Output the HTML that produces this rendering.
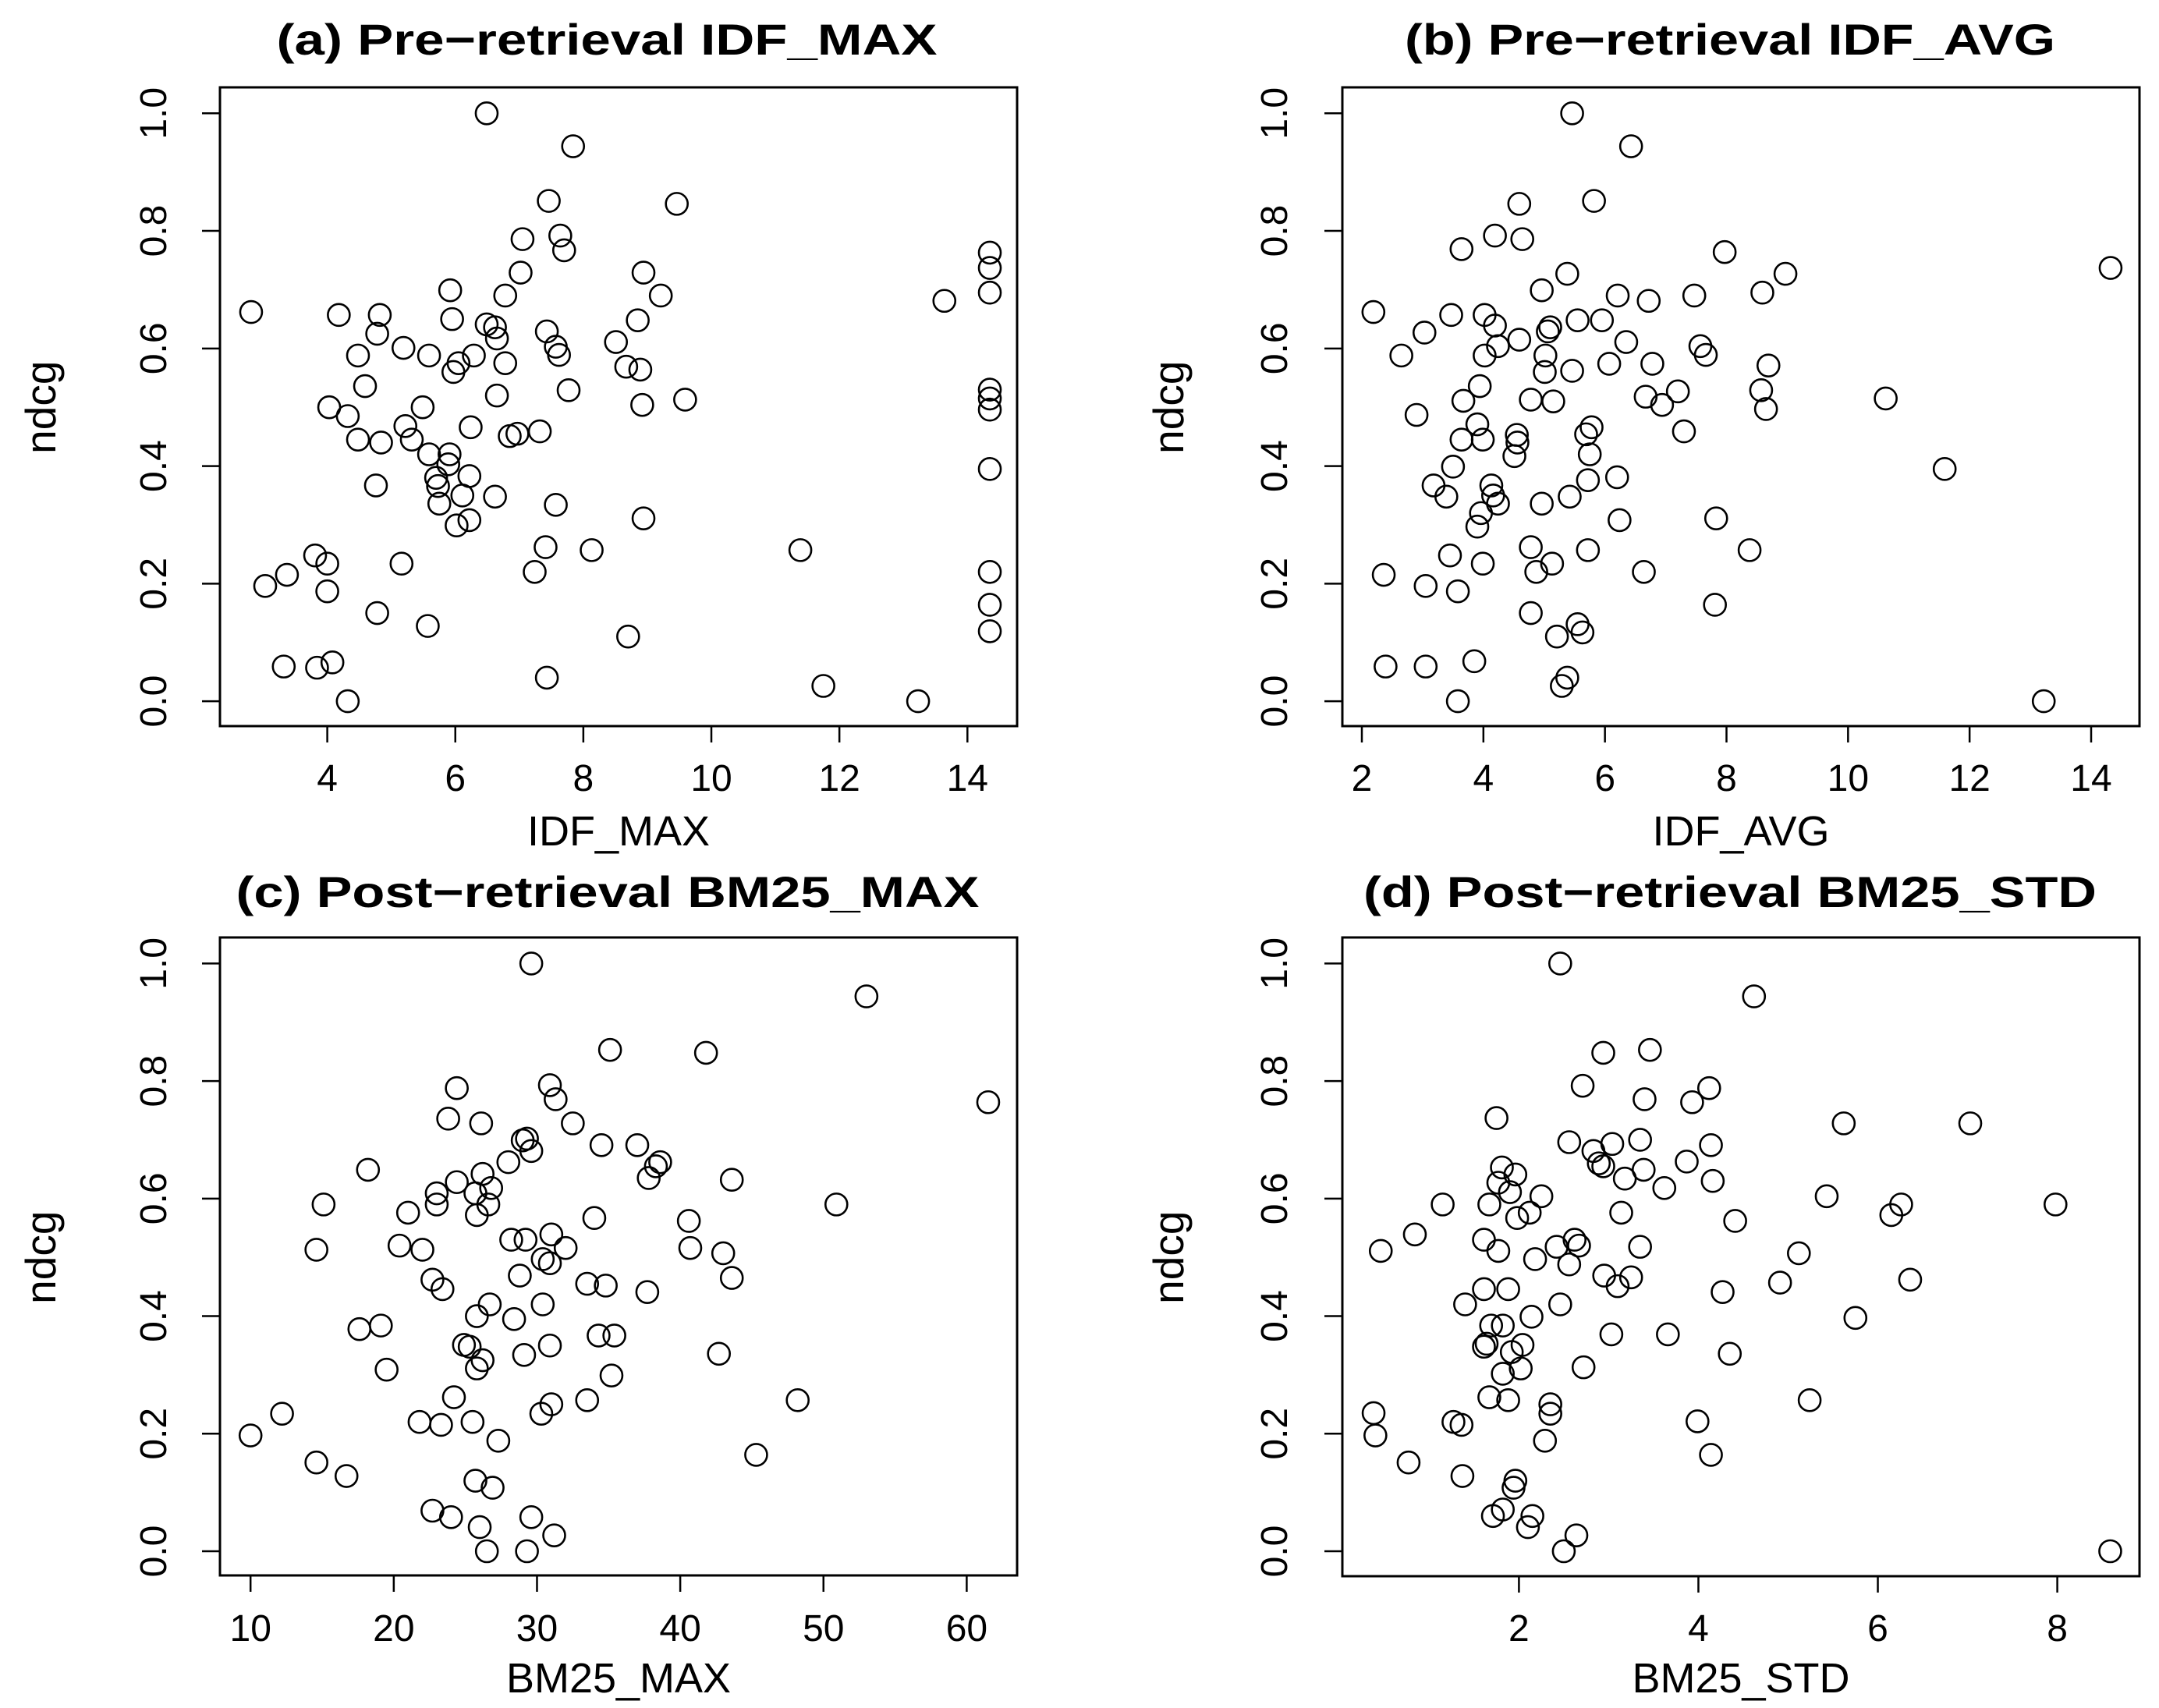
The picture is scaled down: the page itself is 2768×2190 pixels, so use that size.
<!DOCTYPE html>
<html><head><meta charset="utf-8"><style>
html,body{margin:0;padding:0;background:#fff}
svg{display:block}
text{font-family:"Liberation Sans",Arial,sans-serif;fill:#000}
</style></head><body>
<svg id="fig" width="2768" height="2190" viewBox="0 0 2768 2190" xmlns="http://www.w3.org/2000/svg">
<rect x="0" y="0" width="2768" height="2190" fill="#fff"/>
</svg>
<script>
const aX=[6.49,7.84,7.46,9.46,7.05,7.64,7.70,7.02,8.94,9.21,6.78,5.92,2.81,4.18,4.82,4.78,5.95,6.49,6.62,6.65,7.43,7.57,7.62,8.51,8.85,5.19,4.48,5.59,6.05,5.97,6.29,6.78,8.67,8.89,4.59,6.65,7.77,9.59,8.92,4.03,5.49,4.32,5.22,5.32,4.48,4.84,6.24,6.85,6.97,7.32,5.59,5.91,5.89,4.76,5.70,5.73,6.22,6.11,6.62,5.75,7.57,6.02,6.22,8.94,3.81,4.0,5.16,7.41,8.13,7.24,11.39,3.37,3.03,4.0,4.78,5.57,8.70,3.32,3.84,4.08,4.32,7.43,11.75,13.23,13.64,14.35,14.35,14.35,14.35,14.35,14.35,14.35,14.35,14.35,14.35];
const aY=[1.0,.944,.851,.846,.786,.792,.767,.729,.729,.690,.690,.699,.662,.657,.657,.625,.650,.641,.636,.617,.629,.603,.589,.611,.648,.601,.588,.588,.575,.560,.588,.575,.569,.564,.536,.520,.529,.513,.504,.500,.500,.485,.468,.445,.445,.440,.466,.451,.455,.459,.420,.420,.403,.367,.380,.366,.383,.350,.348,.336,.334,.299,.308,.311,.248,.234,.234,.262,.257,.220,.257,.215,.196,.187,.150,.128,.110,.059,.057,.066,0,.040,.026,0,.681,.763,.737,.695,.530,.515,.496,.395,.220,.164,.119];
const bX=[5.46,6.43,5.82,4.59,4.19,4.64,3.64,7.97,14.32,5.38,8.97,4.96,6.21,7.47,6.72,8.59,2.19,3.47,4.02,4.19,3.03,4.24,4.59,5.06,5.10,5.55,5.95,6.35,7.57,7.66,2.65,4.02,5.02,5.01,5.46,6.07,6.78,8.69,3.94,3.67,4.78,5.15,6.67,6.94,7.20,8.57,8.65,10.62,2.90,3.90,3.64,3.99,4.55,4.56,4.51,5.78,5.69,5.75,7.30,3.50,11.59,3.18,3.39,4.13,4.16,4.24,3.96,3.90,4.96,5.42,5.72,6.20,6.24,7.83,4.78,5.72,8.38,3.45,3.99,5.13,4.87,6.64,2.36,3.05,3.58,4.78,5.55,5.63,5.21,7.81,2.39,3.05,3.85,5.38,5.29,3.58,13.22];
const bY=[1.0,.944,.851,.846,.792,.786,.769,.764,.737,.727,.727,.699,.690,.690,.681,.695,.662,.657,.657,.639,.627,.604,.615,.629,.636,.648,.648,.611,.604,.589,.588,.588,.588,.560,.562,.574,.574,.571,.536,.511,.513,.510,.518,.504,.527,.529,.497,.515,.487,.471,.445,.445,.453,.440,.417,.466,.454,.420,.459,.399,.395,.367,.348,.367,.350,.336,.320,.297,.336,.348,.376,.381,.308,.311,.262,.257,.257,.248,.234,.234,.220,.220,.215,.196,.187,.150,.131,.117,.110,.164,.059,.059,.068,.040,.026,0,0];
const cX=[29.6,53.0,35.1,41.8,61.5,24.4,30.9,31.3,23.8,26.1,32.5,34.5,37.0,29.0,29.3,29.6,28.0,38.6,38.3,37.8,43.6,18.2,24.4,26.2,26.8,23.0,23.0,15.1,25.7,26.6,25.8,21.0,34.0,40.6,50.9,14.6,20.4,22.0,28.2,29.2,31.0,32.0,30.4,30.9,40.7,43.0,43.6,22.7,23.4,28.8,33.5,34.8,37.7,26.7,25.8,28.4,30.4,17.6,19.1,24.9,25.3,26.2,25.8,19.5,29.1,30.9,34.3,35.4,42.7,35.2,24.2,30.3,31.0,33.5,48.2,12.2,10.0,21.8,23.3,25.5,27.3,45.3,14.6,16.7,25.7,26.9,22.7,24.0,26.0,29.6,31.2,26.5,29.3];
const cY=[1.0,.944,.853,.848,.764,.788,.793,.769,.736,.728,.728,.691,.691,.699,.702,.681,.662,.662,.655,.635,.632,.649,.628,.642,.618,.609,.590,.590,.609,.590,.572,.576,.567,.562,.590,.513,.520,.513,.530,.530,.539,.516,.497,.490,.516,.507,.465,.462,.446,.469,.455,.452,.441,.420,.400,.395,.420,.378,.384,.351,.348,.325,.311,.309,.334,.350,.367,.367,.336,.299,.262,.234,.250,.257,.257,.234,.197,.220,.215,.220,.188,.164,.151,.128,.120,.108,.069,.058,.041,.058,.027,0,0];
const dX=[2.46,4.62,2.94,3.46,2.71,3.40,3.93,4.12,1.75,5.62,7.03,2.56,3.35,3.04,2.83,2.89,2.94,4.14,3.87,3.39,3.18,3.62,4.16,1.81,1.96,1.77,1.90,2.25,1.15,1.67,2.12,1.98,3.14,5.43,6.26,6.15,7.98,4.41,0.84,0.46,1.61,1.77,2.42,2.62,2.67,2.18,2.56,3.35,5.12,2.95,3.10,3.25,4.91,6.36,1.61,1.88,4.27,1.40,2.46,2.14,5.75,1.69,1.82,1.64,1.61,2.04,1.92,2.02,1.82,3.03,3.66,4.35,2.72,1.67,1.88,2.35,2.35,5.24,0.38,0.40,1.27,1.36,2.29,3.99,4.14,0.77,1.37,1.96,1.94,1.71,1.82,2.10,2.15,2.64,2.50,8.59];
const dY=[1.0,.944,.848,.853,.792,.769,.764,.788,.737,.728,.728,.696,.700,.693,.681,.660,.655,.691,.663,.649,.634,.618,.630,.653,.641,.627,.611,.604,.590,.590,.576,.567,.576,.604,.590,.572,.590,.562,.539,.511,.530,.511,.518,.530,.520,.497,.488,.518,.507,.469,.451,.466,.457,.462,.446,.446,.441,.420,.420,.399,.397,.384,.384,.353,.348,.351,.339,.311,.302,.369,.369,.336,.313,.262,.257,.250,.234,.257,.235,.197,.220,.215,.188,.221,.164,.151,.128,.120,.108,.060,.071,.041,.060,.027,0,0];
const yTicks=["0.0","0.2","0.4","0.6","0.8","1.0"];
const aTicks=["4","6","8","10","12","14"];
const bTicks=["2","4","6","8","10","12","14"];
const cTicks=["10","20","30","40","50","60"];
const dTicks=["2","4","6","8"];

const NS="http://www.w3.org/2000/svg";
const svg=document.getElementById('fig');
function mk(tag,attrs,parent){const e=document.createElementNS(NS,tag);for(const k in attrs)e.setAttribute(k,attrs[k]);(parent||svg).appendChild(e);return e;}

const panels=[
 {id:'a',title:'(a) Pre\u2212retrieval IDF_MAX',tw:847,tx:778,ty:70,xl:'IDF_MAX',box:[282,112,1304,931],x0v:4,x0p:419.6,x1v:14,x1p:1240.3,y0p:899.1,y1p:145.3,xt:aTicks,X:aX,Y:aY,ytx:213,ylx:71,xtb:1014,xlb:1084},
 {id:'b',title:'(b) Pre\u2212retrieval IDF_AVG',tw:834,tx:2218,ty:70,xl:'IDF_AVG',box:[1721,112,2743,931],x0v:2,x0p:1746,x1v:14,x1p:2681,y0p:899.1,y1p:145.3,xt:bTicks,X:bX,Y:bY,ytx:1650,ylx:1517,xtb:1014,xlb:1084},
 {id:'c',title:'(c) Post\u2212retrieval BM25_MAX',tw:953,tx:779,ty:1163,xl:'BM25_MAX',box:[282,1202,1304,2020],x0v:10,x0p:321.2,x1v:60,x1p:1239.4,y0p:1989,y1p:1235.4,xt:cTicks,X:cX,Y:cY,ytx:213,ylx:71,xtb:2104,xlb:2170},
 {id:'d',title:'(d) Post\u2212retrieval BM25_STD',tw:940,tx:2218,ty:1163,xl:'BM25_STD',box:[1721,1202,2743,2021],x0v:2,x0p:1947.4,x1v:8,x1p:2637.6,y0p:1989,y1p:1235.4,xt:dTicks,X:dX,Y:dY,ytx:1650,ylx:1517,xtb:2104,xlb:2170}
];

panels.forEach(p=>{
 const sx=v=>p.x0p+(v-p.x0v)*(p.x1p-p.x0p)/(p.x1v-p.x0v);
 const sy=v=>p.y0p+v*(p.y1p-p.y0p);
 const g=mk('g',{});
 
 
 const t=mk('text',{x:p.tx,y:p.ty,'text-anchor':'middle','font-size':56,'font-weight':'bold',textLength:p.tw,lengthAdjust:'spacingAndGlyphs'},g);
 t.textContent=p.title;
 
 
 const b=p.box;
 const r=mk('rect',{x:b[0],y:b[1],width:b[2]-b[0],height:b[3]-b[1],fill:'none',stroke:'#000','stroke-width':3},g);
 
 
 yTicks.forEach(s=>{
  const y=sy(parseFloat(s));
  mk('line',{x1:b[0]-23,x2:b[0],y1:y,y2:y,stroke:'#000','stroke-width':2.5},g);
  const tt=mk('text',{x:0,y:0,transform:`translate(${p.ytx},${y}) rotate(-90)`,'text-anchor':'middle','font-size':48,fill:'#222'},g);
  tt.textContent=s;
  
  
 });
 p.xt.forEach(s=>{
  const x=sx(parseFloat(s));
  mk('line',{x1:x,x2:x,y1:b[3],y2:b[3]+21,stroke:'#000','stroke-width':2.5},g);
  const tt=mk('text',{x:x,y:p.xtb,'text-anchor':'middle','font-size':48,fill:'#222'},g);
  tt.textContent=s;
  
  
 });
 const xl=mk('text',{x:(b[0]+b[2])/2,y:p.xlb,'text-anchor':'middle','font-size':54,fill:'#222'},g);
 xl.textContent=p.xl;
 
 
 const ymid=(p.y0p+p.y1p)/2;
 const yl=mk('text',{x:0,y:0,transform:`translate(${p.ylx},${ymid}) rotate(-90)`,'text-anchor':'middle','font-size':55},g);
 yl.textContent='ndcg';
 
 
 p.X.forEach((xv,i)=>{
  const c=mk('circle',{cx:sx(xv),cy:sy(p.Y[i]),r:14,fill:'none',stroke:'#000','stroke-width':2.6},g);
  
  
 });
});
</script>
</body></html>
